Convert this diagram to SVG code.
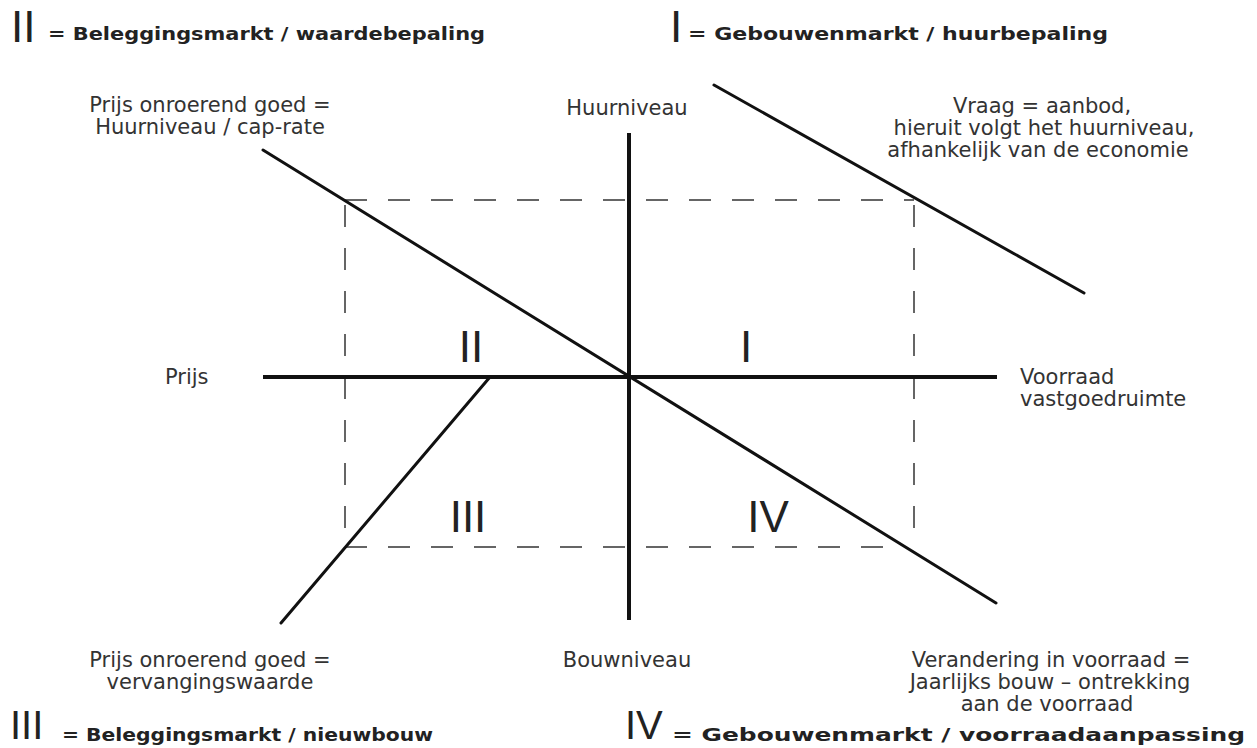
<svg xmlns="http://www.w3.org/2000/svg" width="1257" height="748" viewBox="0 0 1257 748">
<style>
.lbl{font-family:"DejaVu Sans","Liberation Sans",sans-serif;font-size:21px;fill:#333;}
.c{text-anchor:middle;}
.hdr{font-family:"DejaVu Sans","Liberation Sans",sans-serif;font-size:18px;font-weight:bold;fill:#222;}
.num{font-family:"Liberation Sans",sans-serif;font-size:44px;fill:#222;}
.numb{font-family:"Liberation Sans",sans-serif;font-size:40px;fill:#222;}
.axis{stroke:#111;stroke-width:4;fill:none;}
.curve{stroke:#111;stroke-width:3;fill:none;stroke-linecap:round;}
.dash{stroke:#333;stroke-width:1.5;stroke-dasharray:22 21;fill:none;}
</style>
<rect width="1257" height="748" fill="#fff"/>
<g id="connectors">
<line class="dash" x1="345" y1="200" x2="914" y2="200"/>
<line class="dash" x1="345" y1="547" x2="905" y2="547"/>
<line class="dash" x1="345" y1="205" x2="345" y2="547"/>
<line class="dash" x1="914" y1="205" x2="914" y2="547"/>
<line class="axis" x1="263" y1="377" x2="997" y2="377"/>
<line class="axis" x1="629" y1="133" x2="629" y2="620"/>
<line class="curve" x1="263" y1="150" x2="996" y2="603"/>
<line class="curve" x1="714" y1="85" x2="1084" y2="293"/>
<line class="curve" x1="490" y1="377" x2="281" y2="623"/>
</g>
<g id="header-II">
<text class="num" x="11" y="42">II</text>
<text class="hdr" x="48" y="40" textLength="437" lengthAdjust="spacingAndGlyphs">= Beleggingsmarkt / waardebepaling</text>
</g>
<g id="header-I">
<text class="num" x="670" y="42">I</text>
<text class="hdr" x="688" y="40" textLength="420" lengthAdjust="spacingAndGlyphs">= Gebouwenmarkt / huurbepaling</text>
</g>
<g id="header-III">
<text class="numb" x="10" y="739">III</text>
<text class="hdr" x="62" y="741" textLength="371" lengthAdjust="spacingAndGlyphs">= Beleggingsmarkt / nieuwbouw</text>
</g>
<g id="header-IV">
<text class="numb" x="625" y="739">IV</text>
<text class="hdr" x="672" y="741" textLength="573" lengthAdjust="spacingAndGlyphs">= Gebouwenmarkt / voorraadaanpassing</text>
</g>
<g id="label-prijs-og-top">
<text class="lbl c" x="210" y="112">Prijs onroerend goed =</text>
<text class="lbl c" x="210" y="134">Huurniveau / cap-rate</text>
</g>
<g id="label-huurniveau">
<text class="lbl c" x="627" y="115">Huurniveau</text>
</g>
<g id="label-vraag">
<text class="lbl c" x="1042" y="113">Vraag = aanbod,</text>
<text class="lbl c" x="1044" y="135">hieruit volgt het huurniveau,</text>
<text class="lbl c" x="1038" y="157">afhankelijk van de economie</text>
</g>
<g id="label-prijs">
<text class="lbl" x="165" y="384">Prijs</text>
</g>
<g id="label-voorraad">
<text class="lbl" x="1020" y="384">Voorraad</text>
<text class="lbl" x="1020" y="406">vastgoedruimte</text>
</g>
<g id="quadrant-II"><text class="num c" x="471" y="362">II</text></g>
<g id="quadrant-I"><text class="num c" x="746" y="362">I</text></g>
<g id="quadrant-III"><text class="num c" x="468" y="532">III</text></g>
<g id="quadrant-IV"><text class="num c" x="768" y="532">IV</text></g>
<g id="label-prijs-og-bottom">
<text class="lbl c" x="210" y="667">Prijs onroerend goed =</text>
<text class="lbl c" x="210" y="689">vervangingswaarde</text>
</g>
<g id="label-bouwniveau">
<text class="lbl c" x="627" y="667">Bouwniveau</text>
</g>
<g id="label-verandering">
<text class="lbl c" x="1051" y="667">Verandering in voorraad =</text>
<text class="lbl c" x="1050" y="689">Jaarlijks bouw – ontrekking</text>
<text class="lbl c" x="1047" y="711">aan de voorraad</text>
</g>
</svg>
